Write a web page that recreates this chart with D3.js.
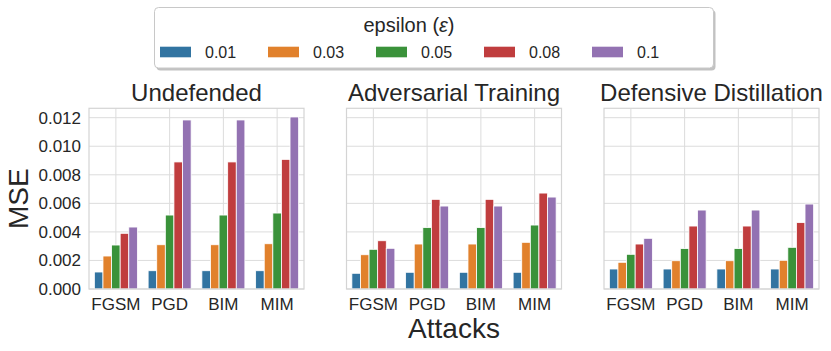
<!DOCTYPE html>
<html lang="en">
<head>
  <meta charset="utf-8">
  <title>MSE by attack</title>
  <script src="https://d3js.org/d3.v7.min.js"></script>
  <style>
  body { margin: 0; background: white; }
  text { font-family: "Liberation Sans", Arial, sans-serif; fill: #262626; }
  </style>
</head>
<body>
<script>
var width = 831;
var height = 351;

var attacks = ["FGSM", "PGD", "BIM", "MIM"];
var epsilons = ["0.01", "0.03", "0.05", "0.08", "0.1"];
var panels = ["Undefended", "Adversarial Training", "Defensive Distillation"];
var yTicks = [0, 0.002, 0.004, 0.006, 0.008, 0.010, 0.012];

// one row per attack, one value per epsilon
var undefended = [
  [0.00119, 0.00231, 0.00308, 0.00390, 0.00434],
  [0.00128, 0.00310, 0.00518, 0.00890, 0.01184],
  [0.00128, 0.00310, 0.00518, 0.00890, 0.01184],
  [0.00128, 0.00317, 0.00532, 0.00908, 0.01205]
];
var advTraining = [
  [0.00110, 0.00240, 0.00278, 0.00338, 0.00285],
  [0.00117, 0.00315, 0.00430, 0.00628, 0.00581],
  [0.00117, 0.00315, 0.00430, 0.00628, 0.00581],
  [0.00117, 0.00327, 0.00448, 0.00672, 0.00644]
];
var defDistillation = [
  [0.00140, 0.00187, 0.00243, 0.00315, 0.00355],
  [0.00140, 0.00198, 0.00283, 0.00441, 0.00553],
  [0.00140, 0.00198, 0.00283, 0.00441, 0.00553],
  [0.00140, 0.00201, 0.00292, 0.00465, 0.00595]
];
var panelData = [undefended, advTraining, defDistillation];

var colors = ["#3274a1", "#e1812c", "#3a923a", "#c03d3e", "#9372b2"];

var svg = d3.select("body").append("svg")
  .attr("width", width)
  .attr("height", height);

var plotTop = 108.3, plotBottom = 289;

var panelX = d3.scaleBand()
  .domain(panels)
  .range([89, 819])
  .paddingInner(0.165)
  .paddingOuter(0);

var x = d3.scaleBand()
  .domain(attacks)
  .range([0, panelX.bandwidth()])
  .paddingInner(0.2)
  .paddingOuter(0.1);

var xSub = d3.scaleBand()
  .domain(epsilons)
  .range([0, x.bandwidth()]);

var y = d3.scaleLinear()
  .domain([0, 0.012658])
  .range([plotBottom, plotTop]);

var color = d3.scaleOrdinal().domain(epsilons).range(colors);

panels.forEach(function(p, pi) {
  var g = svg.append("g").attr("transform", "translate(" + panelX(p) + ",0)");
  var w = panelX.bandwidth();

  // grid
  g.selectAll(".hgrid").data(yTicks).enter().append("line")
    .attr("x1", 0).attr("x2", w)
    .attr("y1", function(d) { return y(d); })
    .attr("y2", function(d) { return y(d); })
    .attr("stroke", "#dcdcdc").attr("stroke-width", 1);
  g.selectAll(".vgrid").data(attacks).enter().append("line")
    .attr("x1", function(d) { return x(d) + x.bandwidth() / 2; })
    .attr("x2", function(d) { return x(d) + x.bandwidth() / 2; })
    .attr("y1", plotTop).attr("y2", plotBottom)
    .attr("stroke", "#dcdcdc").attr("stroke-width", 1);

  // bars
  var groups = g.selectAll(".grp").data(panelData[pi]).enter().append("g")
    .attr("transform", function(d, i) { return "translate(" + x(attacks[i]) + ",0)"; });
  groups.selectAll("rect").data(function(d) { return d; }).enter().append("rect")
    .attr("x", function(d, i) { return xSub(epsilons[i]); })
    .attr("width", xSub.bandwidth())
    .attr("y", function(d) { return y(d); })
    .attr("height", function(d) { return y(0) - y(d); })
    .attr("fill", function(d, i) { return color(epsilons[i]); })
    .attr("stroke", "white").attr("stroke-width", 0.8);

  // frame
  g.append("rect")
    .attr("x", 0).attr("y", plotTop)
    .attr("width", w).attr("height", plotBottom - plotTop)
    .attr("fill", "none").attr("stroke", "#d4d4d4").attr("stroke-width", 1.2);

  // x tick labels
  g.selectAll(".xlab").data(attacks).enter().append("text")
    .attr("x", function(d) { return x(d) + x.bandwidth() / 2; })
    .attr("y", 310)
    .attr("text-anchor", "middle")
    .style("font-size", "17px")
    .text(function(d) { return d; });

  // title
  g.append("text")
    .attr("x", w / 2).attr("y", 101)
    .attr("text-anchor", "middle")
    .style("font-size", "24px")
    .text(p);

  if (pi === 0) {
    g.selectAll(".ylab").data(yTicks).enter().append("text")
      .attr("x", -8)
      .attr("y", function(d) { return y(d); })
      .attr("dy", "0.35em")
      .attr("text-anchor", "end")
      .style("font-size", "17px")
      .text(function(d) { return d3.format(".3f")(d); });
  }
});

// axis labels
svg.append("text")
  .attr("transform", "translate(28," + ((plotTop + plotBottom) / 2) + ") rotate(-90)")
  .attr("text-anchor", "middle")
  .style("font-size", "28px")
  .text("MSE");

svg.append("text")
  .attr("x", panelX(panels[1]) + panelX.bandwidth() / 2)
  .attr("y", 338)
  .attr("text-anchor", "middle")
  .style("font-size", "28px")
  .text("Attacks");

// legend
var lg = svg.append("g");
lg.append("rect")
  .attr("x", 156.5).attr("y", 10).attr("width", 559).attr("height", 60.5)
  .attr("rx", 4).attr("fill", "#999").attr("opacity", 0.6);
lg.append("rect")
  .attr("x", 154.5).attr("y", 7.5).attr("width", 559).attr("height", 60.5)
  .attr("rx", 4).attr("fill", "white").attr("stroke", "#c8c8c8").attr("stroke-width", 1);
var title = lg.append("text")
  .attr("x", 409).attr("y", 32)
  .attr("text-anchor", "middle")
  .style("font-size", "20px");
title.append("tspan").text("epsilon (");
title.append("tspan").style("font-style", "italic").text("\u03b5");
title.append("tspan").text(")");

var legendX = d3.scalePoint().domain(epsilons).range([160, 592]);
var items = lg.selectAll(".item").data(epsilons).enter().append("g")
  .attr("transform", function(d) { return "translate(" + legendX(d) + ",0)"; });
items.append("rect")
  .attr("x", 0).attr("y", 46.7).attr("width", 31).attr("height", 10.6)
  .attr("fill", function(d) { return color(d); });
items.append("text")
  .attr("x", 45).attr("y", 57.5)
  .style("font-size", "16px")
  .text(function(d) { return d; });
</script>
</body>
</html>
